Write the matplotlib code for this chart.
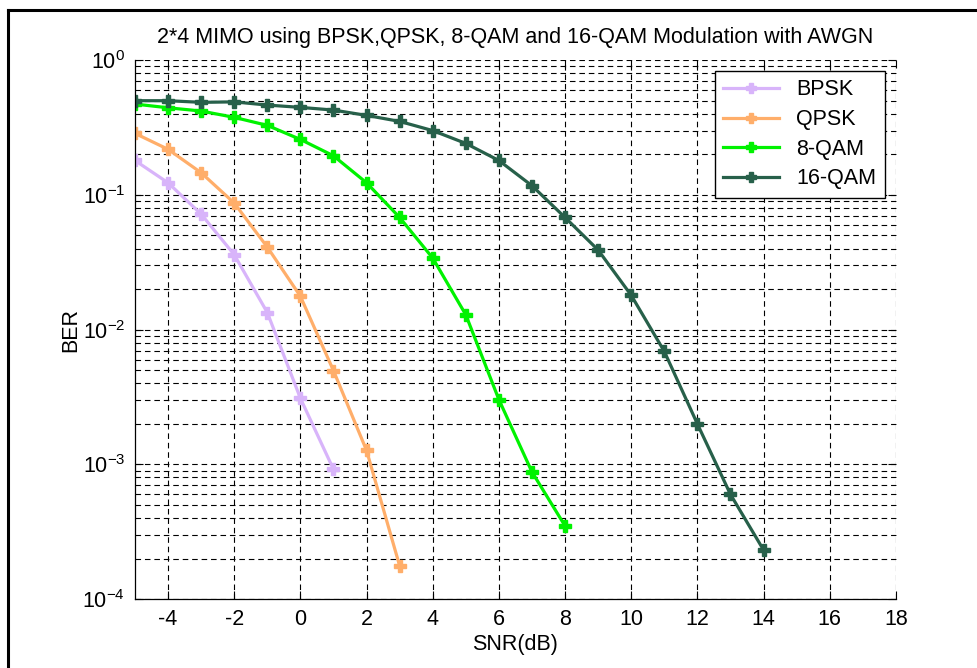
import numpy as np
import matplotlib
matplotlib.use('Agg')
import matplotlib.pyplot as plt
from matplotlib.lines import Line2D
from matplotlib.ticker import LogLocator, NullFormatter

plt.rcParams['font.family'] = ['Liberation Sans', 'DejaVu Sans']
plt.rcParams['mathtext.default'] = 'regular'
plt.rcParams['axes.unicode_minus'] = False

# BER values
snr_bpsk = [-5, -4, -3, -2, -1, 0, 1]
ber_bpsk = [0.18, 0.123, 0.072, 0.036, 0.0134, 0.0031, 0.00092]

snr_qpsk = [-5, -4, -3, -2, -1, 0, 1, 2, 3]
ber_qpsk = [0.286, 0.218, 0.146, 0.087, 0.041, 0.0177, 0.00497, 0.00127, 0.000177]

snr_8qam = list(range(-5, 9))
ber_8qam = [0.472, 0.443, 0.419, 0.376, 0.328, 0.258, 0.195, 0.123, 0.068,
            0.034, 0.0129, 0.00303, 0.00088, 0.00035]

snr_16qam = list(range(-5, 15))
ber_16qam = [0.5, 0.5, 0.486, 0.49, 0.464, 0.446, 0.426, 0.389, 0.351, 0.3,
             0.241, 0.18, 0.117, 0.068, 0.039, 0.018, 0.0069, 0.002, 0.0006,
             0.000232]

series = [
    ('BPSK', snr_bpsk, ber_bpsk, '#D8B4FA'),
    ('QPSK', snr_qpsk, ber_qpsk, '#FFAE6A'),
    ('8-QAM', snr_8qam, ber_8qam, '#00F200'),
    ('16-QAM', snr_16qam, ber_16qam, '#27604A'),
]

fig = plt.figure(figsize=(9.78, 6.68), dpi=100)
ax = fig.add_axes([0.138, 0.103, 0.778, 0.807])

for name, x, y, c in series:
    ax.semilogy(x, y, '-', color=c, lw=2.3, marker='P', ms=8,
                mec=c, mfc=c, label=name)

ax.set_xlim(-5, 18)
ax.set_ylim(1e-4, 1)
ax.set_xticks(np.arange(-4, 19, 2))
ax.yaxis.set_major_locator(LogLocator(base=10, numticks=10))
ax.yaxis.set_minor_locator(LogLocator(base=10, subs=np.arange(2, 10), numticks=20))
ax.yaxis.set_minor_formatter(NullFormatter())

dash = (0, (5, 3.5))
ax.grid(True, which='major', axis='both', color='black', lw=0.8, linestyle=dash)
ax.grid(True, which='minor', axis='y', color='black', lw=0.8, linestyle=dash)

ax.tick_params(which='both', direction='in', top=True, right=True, labelsize=15.5)
ax.tick_params(which='major', length=6, pad=7)
ax.tick_params(which='minor', length=3)
for s in ['top', 'right']:
    ax.spines[s].set_visible(False)
for s in ['left', 'bottom']:
    ax.spines[s].set_linewidth(0.9)

ax.set_title('2*4 MIMO using BPSK,QPSK, 8-QAM and 16-QAM Modulation with AWGN',
             fontsize=15.5, pad=12)
ax.set_xlabel('SNR(dB)', fontsize=15.5, labelpad=3)
ax.set_ylabel('BER', fontsize=15.5, labelpad=1)

leg = ax.legend(loc='upper right', fontsize=15.5, fancybox=False, framealpha=1,
                edgecolor='black', handlelength=2.6, borderaxespad=0.5,
                labelspacing=0.4, markerscale=0.9)
leg.get_frame().set_linewidth(1.0)

# outer frame of the original screenshot
fig.add_artist(Line2D([8 / 978, 1.0], [1 - 10 / 668, 1 - 10 / 668],
                      transform=fig.transFigure, color='black', lw=2.2))
fig.add_artist(Line2D([8 / 978, 8 / 978], [0.0, 1 - 10 / 668],
                      transform=fig.transFigure, color='black', lw=2.2))

fig.savefig('out.png', dpi=100)
